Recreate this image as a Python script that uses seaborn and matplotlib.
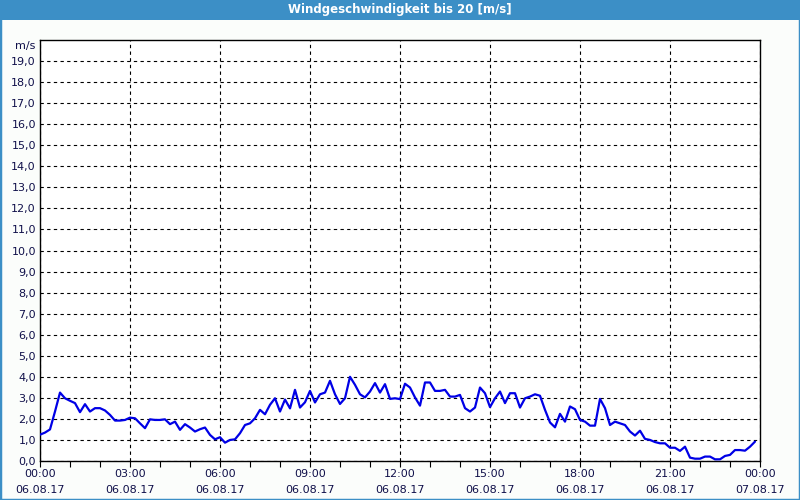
import numpy as np
import pandas as pd
import matplotlib
matplotlib.use("Agg")
import matplotlib.pyplot as plt
import matplotlib.dates as mdates
from matplotlib.patches import Rectangle
import seaborn as sns

# ---- data (10-minute wind speed readings, m/s) ----
wind_speed = [
    1.25, 1.35, 1.50, 2.35, 3.25, 2.98, 2.86, 2.75, 2.32, 2.70, 2.35, 2.51,
    2.51, 2.40, 2.19, 1.92, 1.92, 1.95, 2.06, 2.03, 1.79, 1.56, 1.98, 1.95,
    1.95, 1.98, 1.75, 1.87, 1.48, 1.75, 1.59, 1.40, 1.51, 1.59, 1.24, 1.03,
    1.13, 0.87, 1.00, 1.03, 1.32, 1.71, 1.79, 2.03, 2.43, 2.22, 2.67, 2.98,
    2.35, 2.92, 2.50, 3.38, 2.54, 2.79, 3.33, 2.78, 3.17, 3.25, 3.81, 3.17,
    2.71, 2.98, 4.00, 3.62, 3.17, 3.02, 3.30, 3.70, 3.25, 3.65, 2.95, 2.98,
    2.94, 3.67, 3.49, 3.02, 2.63, 3.73, 3.73, 3.33, 3.33, 3.38, 3.06, 3.06,
    3.14, 2.51, 2.35, 2.54, 3.49, 3.22, 2.56, 2.98, 3.30, 2.75, 3.22, 3.22,
    2.54, 2.98, 3.06, 3.17, 3.10, 2.43, 1.83, 1.60, 2.24, 1.87, 2.59, 2.46,
    1.95, 1.87, 1.68, 1.68, 2.95, 2.51, 1.71, 1.87, 1.79, 1.71, 1.40, 1.21,
    1.44, 1.05, 1.00, 0.90, 0.84, 0.84, 0.63, 0.63, 0.48, 0.68, 0.16, 0.11,
    0.11, 0.21, 0.21, 0.08, 0.08, 0.24, 0.29, 0.52, 0.52, 0.49, 0.68, 0.92,
]
start_time = "2017-08-06 00:00"
end_time = "2017-08-07 00:00"
interval = "10min"
y_ticks = list(range(0, 20))
y_tick_labels = [f"{v:.1f}".replace(".", ",") for v in y_ticks]
title = "Windgeschwindigkeit bis 20 [m/s]"
unit_label = "m/s"

times = pd.date_range(start_time, periods=len(wind_speed), freq=interval)
df = pd.DataFrame({"time": times, "speed": wind_speed})

# ---- style ----
sns.set_theme(style="white")
plt.rcParams["font.family"] = ["DejaVu Sans"]
text_color = "#10104a"
bar_color = "#3c8fc6"
bg_color = "#fbfdfb"

fig = plt.figure(figsize=(8, 5), dpi=100, facecolor=bg_color)
ax = fig.add_axes([40 / 800, 39 / 500, 720 / 800, 421 / 500])
ax.set_facecolor("white")

sns.lineplot(data=df, x="time", y="speed", ax=ax, color="#0000e6",
             linewidth=1.6, zorder=3)

ax.set_xlim(pd.Timestamp(start_time), pd.Timestamp(end_time))
ax.set_ylim(0, 20)
ax.set_xlabel("")
ax.set_ylabel("")

ax.set_yticks(y_ticks)
ax.set_yticklabels(y_tick_labels)
ax.xaxis.set_major_locator(mdates.HourLocator(byhour=range(0, 24, 3)))
ax.xaxis.set_minor_locator(mdates.HourLocator())
ax.xaxis.set_major_formatter(mdates.DateFormatter("%H:%M\n%d.%m.%y"))

ax.tick_params(axis="y", length=0, pad=3, labelsize=8, labelcolor=text_color)
ax.tick_params(axis="x", which="both", direction="out", length=4, width=0.8,
               color="black", bottom=True, pad=2, labelsize=8,
               labelcolor=text_color)
for lbl in ax.get_xticklabels():
    lbl.set_linespacing(1.7)

ax.grid(True, which="major", axis="both", color="black", linestyle=(0, (3, 3)),
        linewidth=0.8)
ax.set_axisbelow(True)
for sp in ax.spines.values():
    sp.set_visible(True)
    sp.set_color("black")
    sp.set_linewidth(1.0)

# unit label
fig.text(35 / 800, 1 - 46 / 500, unit_label, ha="right", va="center",
         fontsize=8, color=text_color)

# title bar
fig.patches.append(Rectangle((0, 1 - 20 / 500), 1, 20 / 500,
                             transform=fig.transFigure, facecolor=bar_color,
                             edgecolor="none", zorder=0))
fig.text(0.5, 1 - 10 / 500, title, ha="center", va="center", fontsize=8.5,
         fontweight="bold", color="white")
# window border
fig.patches.append(Rectangle((0, 0), 1, 1, transform=fig.transFigure,
                             facecolor="none", edgecolor=bar_color,
                             linewidth=2.5, zorder=5))

fig.savefig("out.png", dpi=100, facecolor=bg_color)
